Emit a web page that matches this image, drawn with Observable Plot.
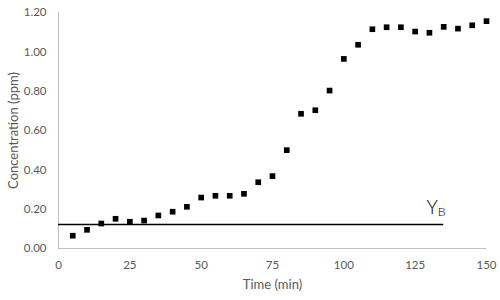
<!DOCTYPE html>
<html>
<head>
<meta charset="utf-8">
<script src="https://cdn.jsdelivr.net/npm/d3@7"></script>
<script src="https://cdn.jsdelivr.net/npm/@observablehq/plot@0.6"></script>
<style>
  html, body { margin: 0; padding: 0; background: #fff; }
  #chart svg { display: block; }
  g[aria-label="x-axis label"] text, g[aria-label="y-axis label"] text { font-size: 13px; }
</style>
</head>
<body>
<div id="chart"></div>
<script>
const times = [5,10,15,20,25,30,35,40,45,50,55,60,65,70,75,80,85,90,95,100,105,110,115,120,125,130,135,140,145,150];
const conc  = [0.065,0.095,0.127,0.151,0.136,0.142,0.168,0.187,0.212,0.259,0.268,0.268,0.278,0.337,0.368,0.500,0.685,0.703,0.803,0.964,1.036,1.115,1.125,1.125,1.103,1.097,1.127,1.118,1.135,1.156];
const xTicks = [0,25,50,75,100,125,150];
const yTicks = [0,0.2,0.4,0.6,0.8,1.0,1.2];
const ybValue = 0.122;
const ybStart = 0;
const ybEnd = 135;
const ybMain = "Y";
const ybSub = "B";
const xLabel = "Time (min)";
const yLabel = "Concentration (ppm)";

const data = times.map((t, i) => ({t, c: conc[i]}));
const ybRow = [{x1: ybStart, x2: ybEnd, y: ybValue}];

const chart = Plot.plot({
  width: 500,
  height: 300,
  marginLeft: 58,
  marginRight: 14,
  marginTop: 12,
  marginBottom: 52,
  style: {fontFamily: "Lato, sans-serif", fontSize: "11.5px", color: "#595959", background: "#fff"},
  x: {domain: [0, 150]},
  y: {domain: [0, 1.2]},
  marks: [
    Plot.axisX({ticks: xTicks, tickSize: 0, tickPadding: 12, label: xLabel, labelAnchor: "center", labelArrow: "none", labelOffset: 40, fontSize: 11.5}),
    Plot.axisY({ticks: yTicks, tickSize: 0, tickPadding: 12, tickFormat: d3.format(".2f"), label: yLabel, labelAnchor: "center", labelArrow: "none", labelOffset: 50, fontSize: 11.5}),
    Plot.ruleY([0], {stroke: "#bfbfbf", strokeWidth: 1}),
    Plot.ruleX([0], {stroke: "#bfbfbf", strokeWidth: 1}),
    Plot.ruleY(ybRow, {x1: "x1", x2: "x2", y: "y", stroke: "#000", strokeWidth: 1.4}),
    Plot.text(ybRow, {x: "x2", y: "y", text: () => ybMain, textAnchor: "end", lineAnchor: "bottom", dx: -6, dy: -11, fontSize: 19, fontWeight: 300, fill: "#000"}),
    Plot.text(ybRow, {x: "x2", y: "y", text: () => ybSub, textAnchor: "start", lineAnchor: "bottom", dx: -6, dy: -9, fontSize: 12.5, fontWeight: 300, fill: "#000"}),
    Plot.dot(data, {x: "t", y: "c", symbol: "square", r: 3.2, fill: "#000", stroke: "none"})
  ]
});
document.getElementById("chart").append(chart);
</script>
</body>
</html>
